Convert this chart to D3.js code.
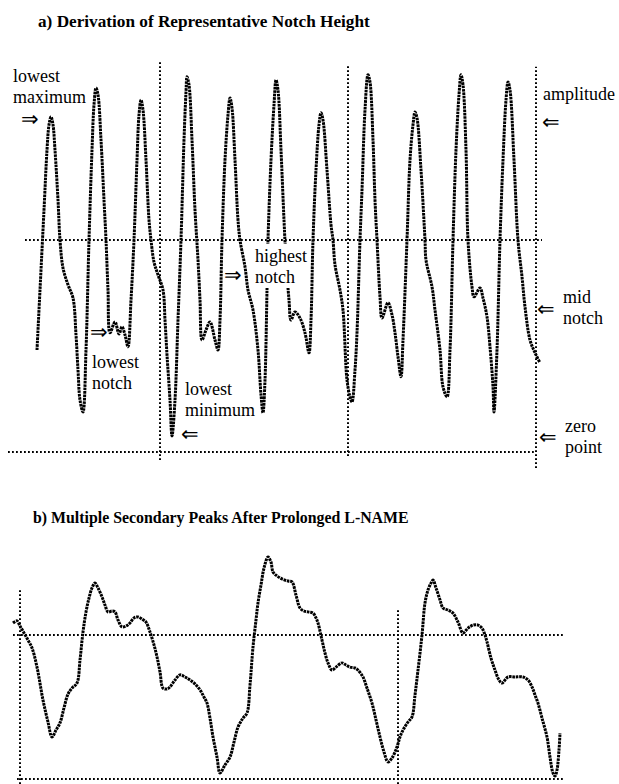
<!DOCTYPE html>
<html>
<head>
<meta charset="utf-8">
<script src="https://cdn.jsdelivr.net/npm/d3@7"></script>
<style>
  body { margin: 0; background: #fff; }
  svg { display: block; }
  text { font-family: "Liberation Serif", "Times New Roman", serif; fill: #000; }
</style>
</head>
<body>
<div id="chart"></div>
<script>
// panel a - time (ms) and amplitude (arbitrary units, zero point = 0)
var traceATime = [145,160,180,195,205,215,225,235,250,260,275,300,325,340,350,360,375,
  390,405,420,430,440,450,465,480,490,500,510,535,555,570,585,600,
  615,630,645,655,665,675,690,705,715,730,750,775,785,795,810,820,
  835,850,865,880,890,895,905,920,935,950,960,970,990,1010,1035,1050,
  1060,1070,1085,1100,1110,1120,1135,1150,1160,1185,1200,1225,1250,1265,1275,
  1285,1295,1300,1315,1330,1340,1350,1365,1380,1390,1405,1415,1435,1460,1485,1505,
  1515,1525,1540,1555,1565,1575,1595,1615,1625,1635,1660,1675,1695,1710,1720,
  1735,1745,1760,1770,1785,1800,1810,1825,1835,1845,1860,1870,1900,1920,1935,1950,1965,
  1975,1995,2010,2025,2035,2045,2065,2085,2090,2120,2135,2160,2175,2195,
  2210,2225,2240,2255,2265,2275,2290,2300,2320,2330,2360,2375,2395,2410,2425,2430,
  2445,2460,2475,2490,2500,2510,2530,2550,2570,2585,2610,2635,2660];
var traceAValue = [25.5,40.5,60.5,75.5,81.8,83.8,81.8,75.5,63,53,46,41.8,38.5,29.3,20.5,13,10,
  25.5,53,75.5,86.8,91,89.3,78,63,53,40.5,29.8,32.5,29.5,31.3,29.3,26.3,
  38,53,73,84.3,88,85.5,73,58,53,47.5,44.3,40.5,33,24.3,13,4,
  13,33,53,78,90,93.8,91.8,78,60.5,48,38,28,30.5,32.5,28,25.5,
  33,53,73,84.3,88.5,86,73,58,53,46.3,40.5,35.5,25.5,14.3,9.8,
  18,40.5,53,73,86.8,93,90.5,75.5,58,48,38,33,35,33.5,29.8,24.8,
  33,53,70.5,81.8,84.8,83,70.5,56.8,53,46.8,40.5,35.5,18,13.8,12.5,
  20.5,29.8,53,65.5,85.5,94.3,92.5,78,63,53,38.8,33.5,37.3,34.3,29.8,23.8,18.8,
  28,53,73,81.8,85,83.5,70.5,53,48,41.3,35.5,25.5,16.3,13.8,
  25.5,53,75.5,89.3,94.3,91.8,75.5,53,41.3,38.8,41,38.5,33.8,26.3,16.3,10,
  25.5,53,73,88,92.5,90.5,73,53,43.8,36.3,28,24.8,22.3];

// panel a reference lines
var levelsA = [{v: 53, t0: 85, t1: 2670}, {v: 0, t0: 0, t1: 2635}];
var markersA = [{t: 760, v0: -2, v1: 98}, {t: 1700, v0: -1, v1: 96.5}, {t: 2640, v0: -4, v1: 96.3}];

// panel b - after prolonged L-NAME
var traceBTime = [25,45,60,80,100,120,145,175,200,220,240,260,280,300,320,345,360,375,390,405,420,435,
  450,470,485,500,520,535,550,570,590,610,630,650,670,690,710,730,745,760,775,795,810,835,860,885,910,
  935,960,980,995,1010,1025,1045,1060,1085,1110,1130,1150,1175,1195,1210,1225,1240,1250,1265,1280,1300,
  1315,1325,1345,1370,1400,1420,1440,1460,1480,1500,1525,1540,1550,1570,1585,1600,1620,1640,1670,1690,
  1710,1735,1750,1775,1795,1820,1840,1860,1880,1900,1920,1945,1960,1975,2000,2020,2035,2050,2070,2085,
  2100,2115,2125,2140,2160,2175,2200,2225,2250,2275,2300,2325,2350,2370,2385,2395,2415,2435,2455,2470,
  2500,2535,2575,2600,2620,2635,2650,2670,2695,2710,2725,2735,2745,2755,2760];
var traceBValue = [52,52.7,51,48.7,46.3,43.7,37.3,26.3,19,14,16.3,18.7,23.7,28.3,30.3,32,39.7,49,55.7,60.3,63.7,65.3,
  63.7,60.7,58,55.7,56,55.7,53,50.7,51,52,53.7,54,53.3,52.3,49,44.7,40.7,35.7,30.3,30,30.7,33,34.7,34,33,
  31.7,29.7,27.3,25.3,20.3,14,7.3,2,4.7,7.3,12.3,17.3,20.3,22,31.3,44,53,58.7,64.7,70.3,74,
  72.3,69,67.7,66.7,66,65.7,61.3,57,56,55.7,55.3,53.7,52,46.3,42,38.7,36.3,37.3,38.7,38,
  37.3,37,36.3,34,30.3,25.3,19.7,14,9,5.7,7,10.7,14,16.3,19,20.7,28,36.3,48,58.7,
  63,65.3,66.3,63.7,59.7,57,56.3,55.3,52.3,48.7,50.3,51.3,51.3,50.3,48,45.7,40.3,36.3,33,32,
  34,34,34,33,30.7,28,25.3,20.3,14,7.3,2,1,3,9.7,15.3];

var levelsB = [{v: 48, t0: 25, t1: 2775}, {v: 0, t0: 45, t1: 2775}];
var markersB = [{t: 60, v0: -1.7, v1: 63}, {t: 1950, v0: -1.7, v1: 57}];

var titleA = "a) Derivation of Representative Notch Height";
var titleB = "b) Multiple Secondary Peaks After Prolonged L-NAME";

// annotation text, placed in pixels
var notes = [
  {lines: ["lowest", "maximum"], x: 13, y: 82, arrow: "\u21D2", ax: 21, ay: 119},
  {lines: ["amplitude"], x: 543, y: 100, arrow: "\u21D0", ax: 542, ay: 122},
  {lines: ["highest", "notch"], x: 255, y: 262, arrow: "\u21D2", ax: 224, ay: 275, box: true},
  {lines: ["lowest", "notch"], x: 92, y: 368, arrow: "\u21D2", ax: 90, ay: 332},
  {lines: ["lowest", "minimum"], x: 185, y: 395, arrow: "\u21D0", ax: 181, ay: 434},
  {lines: ["mid", "notch"], x: 563, y: 303, arrow: "\u21D0", ax: 537, ay: 309},
  {lines: ["zero", "point"], x: 565, y: 432, arrow: "\u21D0", ax: 539, ay: 437}
];

var w = 619, h = 784;

var svg = d3.select("#chart").append("svg")
  .attr("width", w)
  .attr("height", h);

var x = d3.scaleLinear().domain([0, 2800]).range([8, 568]);
var yA = d3.scaleLinear().domain([0, 100]).range([452, 52]);
var yB = d3.scaleLinear().domain([0, 80]).range([779, 539]);

function drawPanel(times, values, levels, markers, y) {
  var g = svg.append("g");

  // dotted reference lines
  g.selectAll("line.level")
    .data(levels)
    .enter()
    .append("line")
    .attr("x1", function(d) { return x(d.t0); })
    .attr("x2", function(d) { return x(d.t1); })
    .attr("y1", function(d) { return y(d.v); })
    .attr("y2", function(d) { return y(d.v); })
    .attr("stroke", "#000")
    .attr("stroke-width", 2)
    .attr("stroke-dasharray", "1.8,2.2");

  g.selectAll("line.marker")
    .data(markers)
    .enter()
    .append("line")
    .attr("x1", function(d) { return x(d.t); })
    .attr("x2", function(d) { return x(d.t); })
    .attr("y1", function(d) { return y(d.v0); })
    .attr("y2", function(d) { return y(d.v1); })
    .attr("stroke", "#000")
    .attr("stroke-width", 2)
    .attr("stroke-dasharray", "1.8,2.2");

  var pts = times.map(function(t, i) { return [t, values[i]]; });

  var line = d3.line()
    .x(function(d) { return x(d[0]); })
    .y(function(d) { return y(d[1]); })
    .curve(d3.curveCatmullRom.alpha(0.5));

  g.append("path")
    .datum(pts)
    .attr("fill", "none")
    .attr("stroke", "#000")
    .attr("stroke-width", 3)
    .attr("stroke-dasharray", "2.6,0.8");
  g.select("path").attr("d", line);
}

drawPanel(traceATime, traceAValue, levelsA, markersA, yA);
drawPanel(traceBTime, traceBValue, levelsB, markersB, yB);

// titles, sized to the width they take in the figure
function title(s, tx, ty, width) {
  var t = svg.append("text")
    .attr("x", tx)
    .attr("y", ty)
    .attr("font-size", 18)
    .attr("font-weight", "bold")
    .text(s);
  var len = t.node().getComputedTextLength();
  t.attr("font-size", 18 * width / len);
}
title(titleA, 38, 27, 332);
title(titleB, 33, 523, 376);

// annotations
notes.forEach(function(n) {
  if (n.box) {
    svg.append("rect")
      .attr("x", n.x - 2)
      .attr("y", n.y - 18)
      .attr("width", 56)
      .attr("height", 44)
      .attr("fill", "#fff");
  }
  n.lines.forEach(function(s, i) {
    svg.append("text")
      .attr("x", n.x)
      .attr("y", n.y + i * 21)
      .attr("font-size", 18)
      .text(s);
  });
  svg.append("text")
    .attr("x", n.ax)
    .attr("y", n.ay)
    .attr("dominant-baseline", "central")
    .attr("font-size", 21)
    .attr("font-family", "DejaVu Sans")
    .text(n.arrow);
});
</script>
</body>
</html>
